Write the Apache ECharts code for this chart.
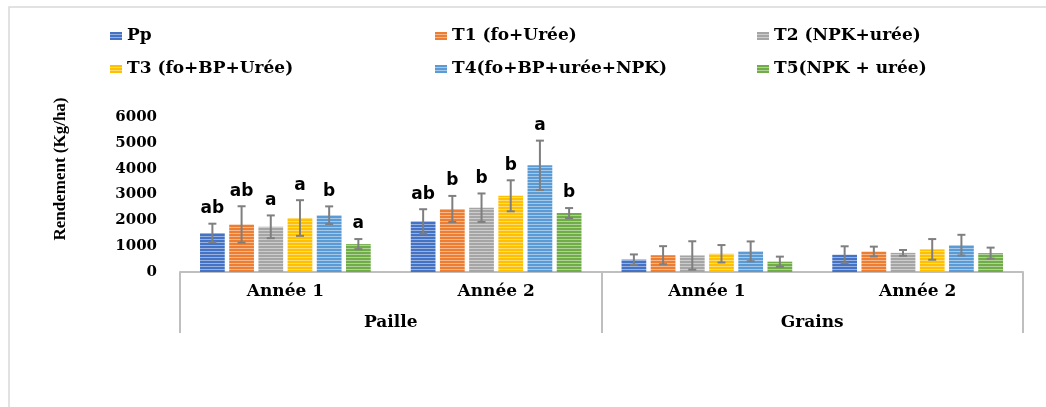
<!DOCTYPE html>
<html>
<head>
<meta charset="utf-8">
<script src="https://cdn.jsdelivr.net/npm/echarts@6/dist/echarts.min.js"></script>
<style>
html,body{margin:0;padding:0;background:#fff;}
#chart{width:1046px;height:407px;}
</style>
</head>
<body>
<div id="chart"></div>
<script>
// ---- data ----
const categories = ['Année 1', 'Année 2', 'Année 1', 'Année 2'];
const groups = ['Paille', 'Grains'];
const seriesNames = ['Pp', 'T1 (fo+Urée)', 'T2 (NPK+urée)', 'T3 (fo+BP+Urée)', 'T4(fo+BP+urée+NPK)', 'T5(NPK + urée)'];
const yTicks = [0, 1000, 2000, 3000, 4000, 5000, 6000];

const ppValues = [1510, 1960, 480, 670];
const t1Values = [1840, 2440, 650, 792];
const t2Values = [1750, 2490, 640, 740];
const t3Values = [2090, 2950, 706, 875];
const t4Values = [2200, 4130, 800, 1040];
const t5Values = [1080, 2280, 400, 730];

const ppErr = [360, 470, 200, 325];
const t1Err = [705, 505, 350, 190];
const t2Err = [440, 550, 550, 111];
const t3Err = [690, 600, 337, 400];
const t4Err = [340, 955, 383, 400];
const t5Err = [195, 195, 195, 214];

const ppLetters = ['ab', 'ab', '', ''];
const t1Letters = ['ab', 'b', '', ''];
const t2Letters = ['a', 'b', '', ''];
const t3Letters = ['a', 'b', '', ''];
const t4Letters = ['b', 'a', '', ''];
const t5Letters = ['a', 'b', '', ''];

const allValues = [ppValues, t1Values, t2Values, t3Values, t4Values, t5Values];
const allErr = [ppErr, t1Err, t2Err, t3Err, t4Err, t5Err];
const allLetters = [ppLetters, t1Letters, t2Letters, t3Letters, t4Letters, t5Letters];
const colors = ['#4472C4', '#ED7D31', '#A5A5A5', '#FFC000', '#5B9BD5', '#70AD47'];

// ---- styling helpers ----
function stripe(color) {
  const c = document.createElement('canvas');
  c.width = 4; c.height = 3;
  const ctx = c.getContext('2d');
  ctx.fillStyle = color; ctx.fillRect(0, 0, 4, 3);
  ctx.fillStyle = 'rgba(255,255,255,0.45)'; ctx.fillRect(0, 2, 4, 1);
  return { image: c, repeat: 'repeat' };
}

const CAT_GAP = 0.19, BAR_GAP = 0.18, N = 6;

const series = [];
seriesNames.forEach((name, i) => {
  series.push({
    name: name,
    type: 'bar',
    xAxisIndex: 0,
    barGap: (BAR_GAP * 100) + '%',
    barCategoryGap: (CAT_GAP * 100) + '%',
    itemStyle: { color: stripe(colors[i]) },
    data: allValues[i],
    z: 2
  });
});
seriesNames.forEach((name, i) => {
  series.push({
    type: 'custom',
    xAxisIndex: 0,
    z: 5,
    silent: true,
    encode: { x: 0, y: [1, 2] },
    data: allValues[i].map((v, k) => [k, v - allErr[i][k], v + allErr[i][k], allLetters[i][k]]),
    renderItem: function (params, api) {
      const cat = api.value(0);
      const lo = api.value(1), hi = api.value(2);
      const letter = allLetters[i][cat];
      const base = api.coord([cat, 0]);
      const bandW = api.size([1, 0])[0];
      const barW = bandW * (1 - CAT_GAP) / (N + (N - 1) * BAR_GAP);
      const x = base[0] + (i - (N - 1) / 2) * barW * (1 + BAR_GAP);
      const yHi = api.coord([cat, hi])[1];
      const yLo = api.coord([cat, lo])[1];
      const st = { stroke: '#7F7F7F', lineWidth: 2 };
      const cap = 4;
      const children = [
        { type: 'line', shape: { x1: x, y1: yHi, x2: x, y2: yLo }, style: st },
        { type: 'line', shape: { x1: x - cap, y1: yHi, x2: x + cap, y2: yHi }, style: st },
        { type: 'line', shape: { x1: x - cap, y1: yLo, x2: x + cap, y2: yLo }, style: st }
      ];
      if (letter) {
        children.push({
          type: 'text',
          x: x, y: yHi - 15,
          style: { text: letter, font: 'bold 17px "DejaVu Sans"', fill: '#000', align: 'center', verticalAlign: 'middle' }
        });
      }
      return { type: 'group', children: children };
    }
  });
});

const legendFont = { fontFamily: 'DejaVu Serif', fontWeight: 'bold', fontSize: 17, color: '#000', lineHeight: 18 };
function legendCol(left, names) {
  return {
    orient: 'vertical', left: left, top: 22, itemGap: 15,
    itemWidth: 12, itemHeight: 8, icon: 'rect',
    textStyle: legendFont, data: names
  };
}

const option = {
  animation: false,
  backgroundColor: '#fff',
  legend: [
    legendCol(105, [seriesNames[0], seriesNames[3]]),
    legendCol(430, [seriesNames[1], seriesNames[4]]),
    legendCol(752, [seriesNames[2], seriesNames[5]])
  ],
  grid: { left: 180, right: 23, top: 117, bottom: 135, containLabel: false, outerBoundsMode: 'none' },
  xAxis: [
    {
      type: 'category', data: categories, position: 'bottom',
      axisLine: { show: true, lineStyle: { color: '#BFBFBF', width: 2 } },
      axisTick: { show: false },
      axisLabel: { margin: 11, interval: 0, color: '#000', fontFamily: 'DejaVu Serif', fontWeight: 'bold', fontSize: 17 }
    },
    {
      type: 'category', data: groups, position: 'bottom', offset: 0,
      axisLine: { show: false },
      axisTick: { show: true, length: 61, inside: false, lineStyle: { color: '#BFBFBF', width: 2 } },
      axisLabel: { margin: 42, interval: 0, color: '#000', fontFamily: 'DejaVu Serif', fontWeight: 'bold', fontSize: 17 }
    }
  ],
  yAxis: {
    type: 'value', min: yTicks[0], max: yTicks[yTicks.length - 1], interval: yTicks[1] - yTicks[0],
    axisLine: { show: false }, axisTick: { show: false }, splitLine: { show: false },
    axisLabel: { margin: 23, color: '#000', fontFamily: 'DejaVu Serif', fontWeight: 'bold', fontSize: 15,
      formatter: function (v) { return String(v); } }
  },
  graphic: [
    { type: 'rect', shape: { x: 9, y: 7, width: 1200, height: 600 }, style: { fill: 'none', stroke: '#D9D9D9', lineWidth: 1.5 }, z: -1 },
    { type: 'text', x: 61, y: 169, rotation: Math.PI / 2,
      style: { text: 'Rendement (Kg/ha)', font: 'bold 17px "Liberation Serif"', fill: '#000', align: 'center', verticalAlign: 'middle' } }
  ],
  series: series
};

const chart = echarts.init(document.getElementById('chart'), null, { renderer: 'canvas' });
chart.setOption(option);
</script>
</body>
</html>
